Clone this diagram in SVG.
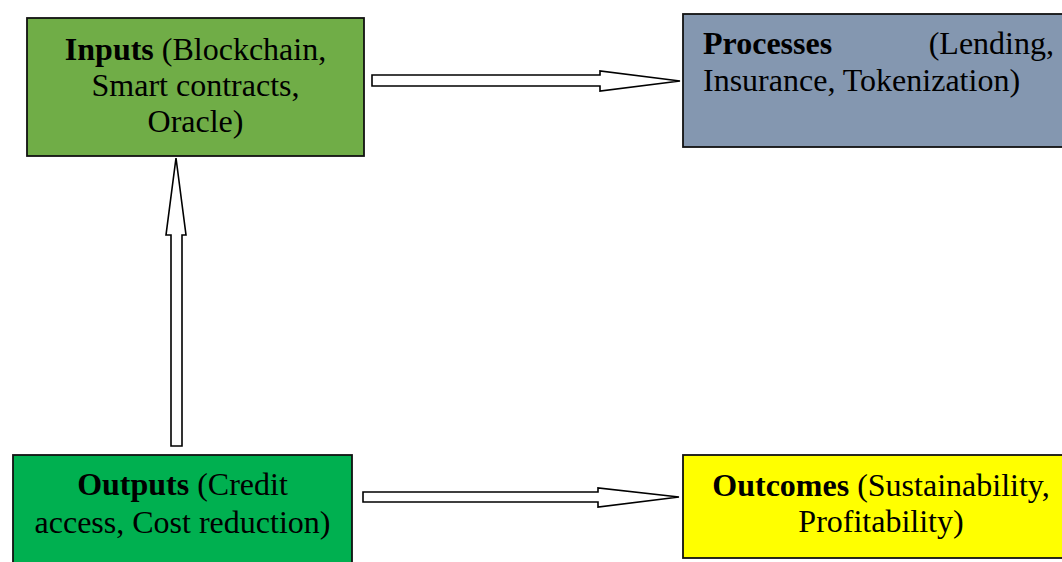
<svg xmlns="http://www.w3.org/2000/svg" width="1062" height="562" viewBox="0 0 1062 562">
<style>
.box{stroke:#111;stroke-width:1.8}
.t{font-family:"Liberation Serif","Times New Roman",serif;font-size:32px;fill:#000}
.b{font-weight:bold}
.arr{fill:#fff;stroke:#000;stroke-width:1.6;stroke-linejoin:miter}
</style>
<rect width="1062" height="562" fill="#fff"/>
<g id="inputs">
<rect class="box" x="27" y="18" width="337" height="138" fill="#70AD47"/>
<text class="t" x="195.5" y="60" text-anchor="middle"><tspan class="b">Inputs</tspan> (Blockchain,</text>
<text class="t" x="195.5" y="96" text-anchor="middle">Smart contracts,</text>
<text class="t" x="195.5" y="132" text-anchor="middle">Oracle)</text>
</g>
<g id="processes">
<rect class="box" x="683" y="14" width="400" height="133" fill="#8497B0"/>
<text class="t" x="703" y="54"><tspan class="b">Processes</tspan></text>
<text class="t" x="1054" y="54" text-anchor="end">(Lending,</text>
<text class="t" x="703" y="91">Insurance, Tokenization)</text>
</g>
<g id="outputs">
<rect class="box" x="13" y="455" width="339" height="120" fill="#00B050"/>
<text class="t" x="182.5" y="495" text-anchor="middle"><tspan class="b">Outputs</tspan> (Credit</text>
<text class="t" x="182.5" y="533" text-anchor="middle">access, Cost reduction)</text>
</g>
<g id="outcomes">
<rect class="box" x="683" y="455" width="400" height="103" fill="#FFFF00"/>
<text class="t" x="881" y="496" text-anchor="middle"><tspan class="b">Outcomes</tspan> (Sustainability,</text>
<text class="t" x="881" y="532" text-anchor="middle">Profitability)</text>
</g>
<g id="connectors">
<polygon class="arr" points="372,75 600,75 600,71 680,81 600,91 600,86 372,86"/>
<polygon class="arr" points="171,446 171,235 166,235 176,158 186,235 182,235 182,446"/>
<polygon class="arr" points="363,492 598,492 598,488 679,497 598,507 598,502 363,502"/>
</g>
</svg>
